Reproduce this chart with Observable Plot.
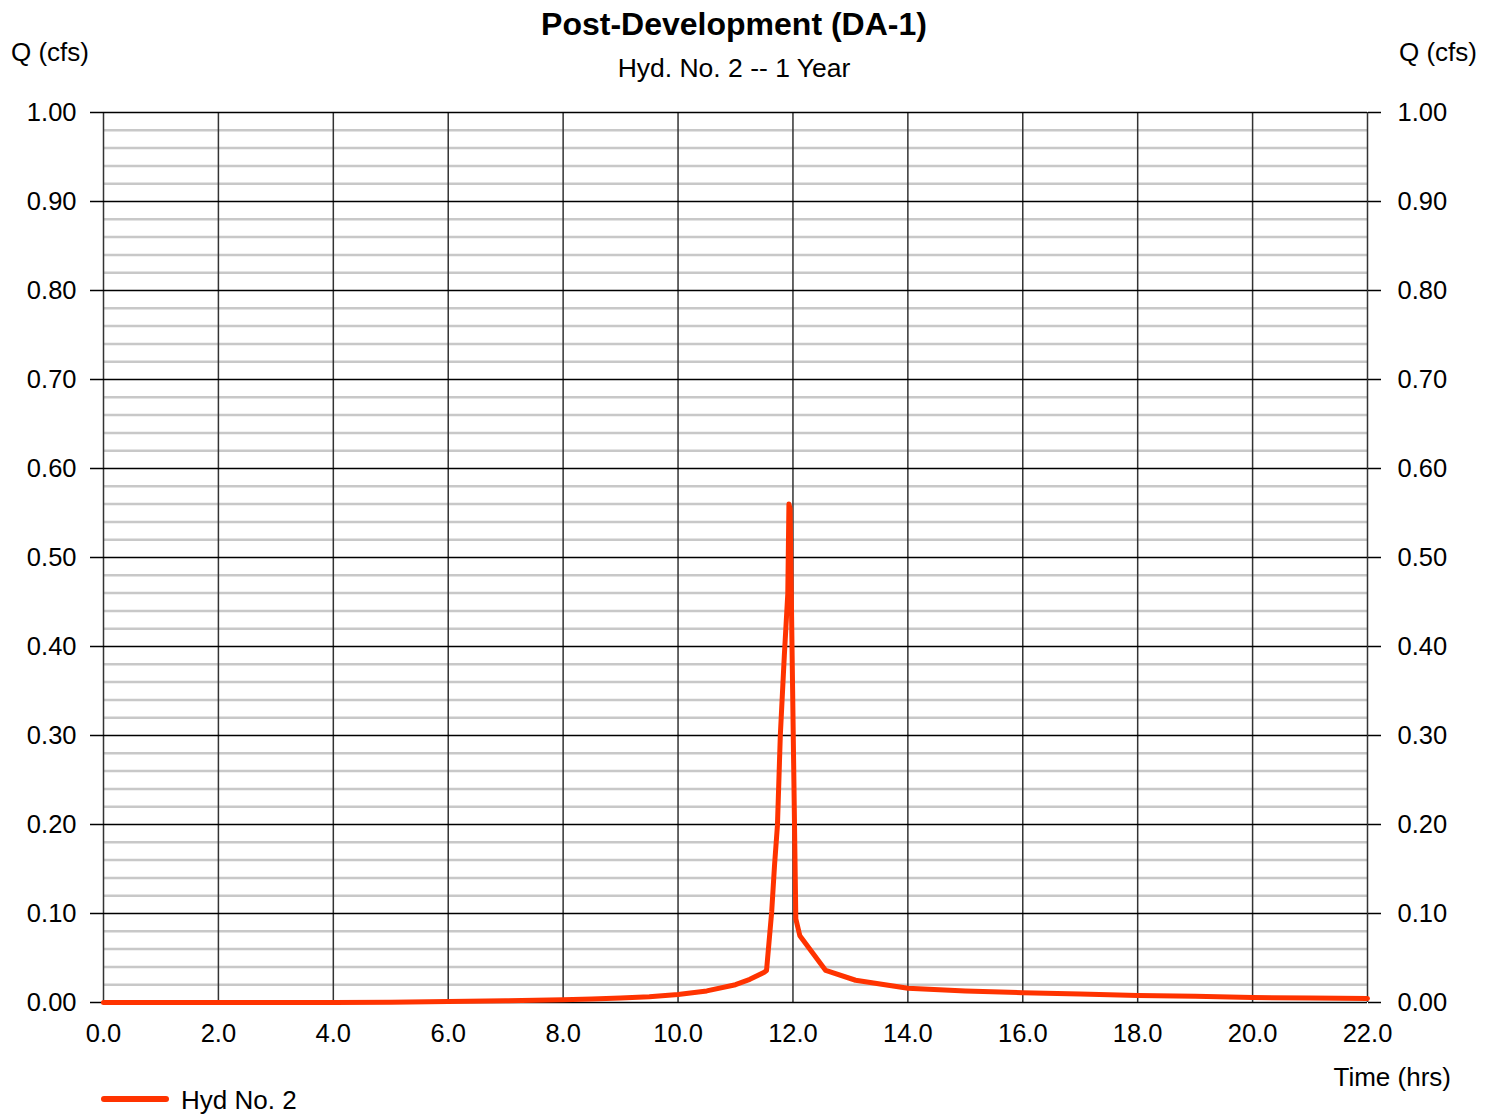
<!DOCTYPE html>
<html>
<head>
<meta charset="utf-8">
<script src="https://cdn.jsdelivr.net/npm/d3@7"></script>
<script src="https://cdn.jsdelivr.net/npm/@observablehq/plot@0.6"></script>
<style>
  html, body { margin: 0; padding: 0; background: #fff; }
  #wrap { position: relative; width: 1494px; height: 1114px; font-family: "Liberation Sans", Arial, sans-serif; color: #000; }
  .t { position: absolute; white-space: nowrap; }
</style>
</head>
<body>
<div id="wrap">
  <div class="t" style="left:0;width:1468px;text-align:center;top:8px;font-size:32px;line-height:32px;font-weight:bold;">Post-Development (DA-1)</div>
  <div class="t" style="left:0;width:1468px;text-align:center;top:55px;font-size:26.5px;line-height:26px;">Hyd. No. 2 -- 1 Year</div>
  <div class="t" style="left:11px;top:39px;font-size:26px;line-height:26px;">Q (cfs)</div>
  <div class="t" style="right:17px;top:39px;font-size:26px;line-height:26px;">Q (cfs)</div>
  <div class="t" style="right:43px;top:1064px;font-size:26px;line-height:26px;">Time (hrs)</div>
  <div class="t" style="left:101px;top:1096px;width:68px;height:6px;border-radius:3px;background:#ff3300;"></div>
  <div class="t" style="left:181px;top:1087px;font-size:26px;line-height:26px;">Hyd No. 2</div>
</div>
<script>
// Hydrograph: time (hrs) and flow Q (cfs)
const timeHrs = [0, 1, 2, 3, 4, 5, 6, 7, 8, 8.5, 9, 9.5, 10, 10.5, 11, 11.25, 11.5, 11.54, 11.63, 11.68, 11.73, 11.78, 11.85, 11.91, 11.93, 11.95, 12.05, 12.12, 12.57, 13.09, 14, 15, 16, 17, 18, 19, 20, 21, 22];
const flowCfs = [0, 0, 0, 0, 0, 0.0003, 0.001, 0.002, 0.003, 0.004, 0.005, 0.0065, 0.009, 0.013, 0.020, 0.026, 0.034, 0.036, 0.102, 0.155, 0.199, 0.300, 0.390, 0.459, 0.560, 0.555, 0.094, 0.075, 0.036, 0.025, 0.016, 0.013, 0.011, 0.0095, 0.008, 0.007, 0.0055, 0.005, 0.0045];

const xTicks = d3.range(0, 22.01, 2);
const yMajor = d3.range(0, 11).map(i => i / 10);
const yMinor = d3.range(0, 51).filter(i => i % 5 !== 0).map(i => i / 50);

const data = timeHrs.map((t, i) => ({t, q: flowCfs[i]}));

const chart = Plot.plot({
  width: 1494,
  height: 1114,
  marginLeft: 103,
  marginRight: 127,
  marginTop: 112,
  marginBottom: 112,
  style: {fontFamily: '"Liberation Sans", Arial, sans-serif', fontSize: "25.5px", color: "#000", background: "transparent"},
  x: {domain: [0, 22]},
  y: {domain: [0, 1]},
  marks: [
    Plot.ruleY(yMinor, {stroke: "#c8c8c8", strokeWidth: 2.5}),
    Plot.ruleX(xTicks, {stroke: "#333", strokeWidth: 1.5}),
    Plot.ruleY(yMajor, {stroke: "#000", strokeWidth: 1.5}),
    Plot.axisY(yMajor, {anchor: "left", tickSize: 13, tickPadding: 14, tickFormat: ".2f", label: null, fontSize: 25.5, strokeWidth: 1.5}),
    Plot.axisY(yMajor, {anchor: "right", tickSize: 13, tickPadding: 17, tickFormat: ".2f", label: null, fontSize: 25.5, strokeWidth: 1.5}),
    Plot.axisX(xTicks, {anchor: "bottom", tickSize: 0, tickPadding: 21, tickFormat: ".1f", label: null, fontSize: 25.5}),
    Plot.line(data, {x: "t", y: "q", stroke: "#ff3300", strokeWidth: 5, strokeLinejoin: "round", strokeLinecap: "round"})
  ]
});
chart.style.position = "absolute";
chart.style.left = "0";
chart.style.top = "0";
document.getElementById("wrap").prepend(chart);
</script>
</body>
</html>
